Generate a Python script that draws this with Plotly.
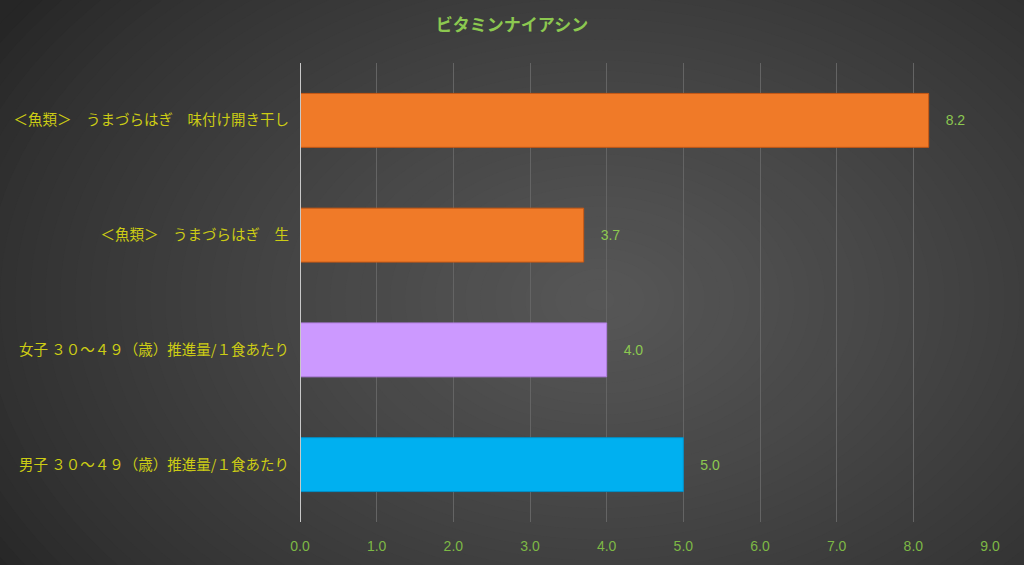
"""
Vitamin niacin comparison: horizontal bars on a dark radial-gradient background.
"""

import plotly.graph_objects as go

# ---- data (top to bottom as shown in the chart) ----
CATEGORIES = [
    "＜魚類＞　うまづらはぎ　味付け開き干し",
    "＜魚類＞　うまづらはぎ　生",
    "女子 ３０～４９（歳）推進量/１食あたり",
    "男子 ３０～４９（歳）推進量/１食あたり",
]
VALUES = [8.2, 3.7, 4.0, 5.0]
BAR_COLORS = ["#f07a28", "#f07a28", "#cc99ff", "#00b0f0"]
LINE_COLORS = ["#c85814", "#c85814", "#b07ee0", "#0090c8"]
TICK_VALS = [0, 1, 2, 3, 4, 5, 6, 7, 8, 9]
TITLE = "ビタミンナイアシン"

JP_FONT = "Noto Sans CJK JP"

W, H = 1024, 565
M_L, M_R, M_T, M_B = 300, 34, 63, 43
PW, PH = W - M_L - M_R, H - M_T - M_B


def px_to_paper(x, y):
    return (x - M_L) / PW, (H - M_B - y) / PH


def background_shapes():
    # fake radial gradient with stacked ellipses, dark edge -> light centre
    cx, cy = 600, 300
    rx, ry = 720, 500
    steps = 48
    dark, light = 0x26, 0x57
    shapes = []
    for i in range(steps):
        k = 1.0 - i / steps
        g = int(round(dark + (light - dark) * (1 - k) ** 0.8))
        x0, y1 = px_to_paper(cx - rx * k, cy - ry * k)
        x1, y0 = px_to_paper(cx + rx * k, cy + ry * k)
        shapes.append(dict(
            type="circle", xref="paper", yref="paper",
            x0=x0, x1=x1, y0=y0, y1=y1,
            fillcolor=f"rgb({g},{g},{g})", line=dict(width=0), layer="below",
        ))
    return shapes


fig = go.Figure(go.Bar(
    x=VALUES,
    y=CATEGORIES,
    orientation="h",
    marker=dict(color=BAR_COLORS, line=dict(color=LINE_COLORS, width=1)),
    text=[f"\u2002\u2002{v:.1f}" for v in VALUES],
    textposition="outside",
    textfont=dict(color="#8cc850", size=14, family="Liberation Sans"),
    cliponaxis=False,
    width=0.47,
))

fig.update_layout(
    width=W, height=H,
    margin=dict(l=M_L, r=M_R, t=M_T, b=M_B),
    paper_bgcolor="#262626",
    plot_bgcolor="rgba(0,0,0,0)",
    shapes=background_shapes(),
    showlegend=False,
    title=dict(
        text=f"<b>{TITLE}</b>", x=0.5, xanchor="center", y=0.967,
        font=dict(family=JP_FONT, size=17, color="#8cc850"),
    ),
)

fig.update_xaxes(
    range=[0, 9], tickvals=TICK_VALS, ticktext=[f"{v:.1f}" for v in TICK_VALS],
    showgrid=True, gridcolor="#646464", gridwidth=1,
    zeroline=False, showline=False, ticks="",
    ticklabelstandoff=14,
    tickfont=dict(family="Liberation Sans", size=14, color="#7db845"),
)

fig.update_yaxes(
    categoryorder="array", categoryarray=CATEGORIES[::-1],
    showgrid=False, zeroline=False,
    showline=False, ticks="",
    ticklabelstandoff=10,
    tickfont=dict(family=JP_FONT, size=14.5, color="#cccc14"),
)

# value axis baseline (light vertical line at x=0)
fig.add_vline(x=0, line=dict(color="#c8c8c8", width=2))

fig.write_html(
    "out.html",
    config={"displayModeBar": False},
    post_script="document.body.style.margin='0';",
)
